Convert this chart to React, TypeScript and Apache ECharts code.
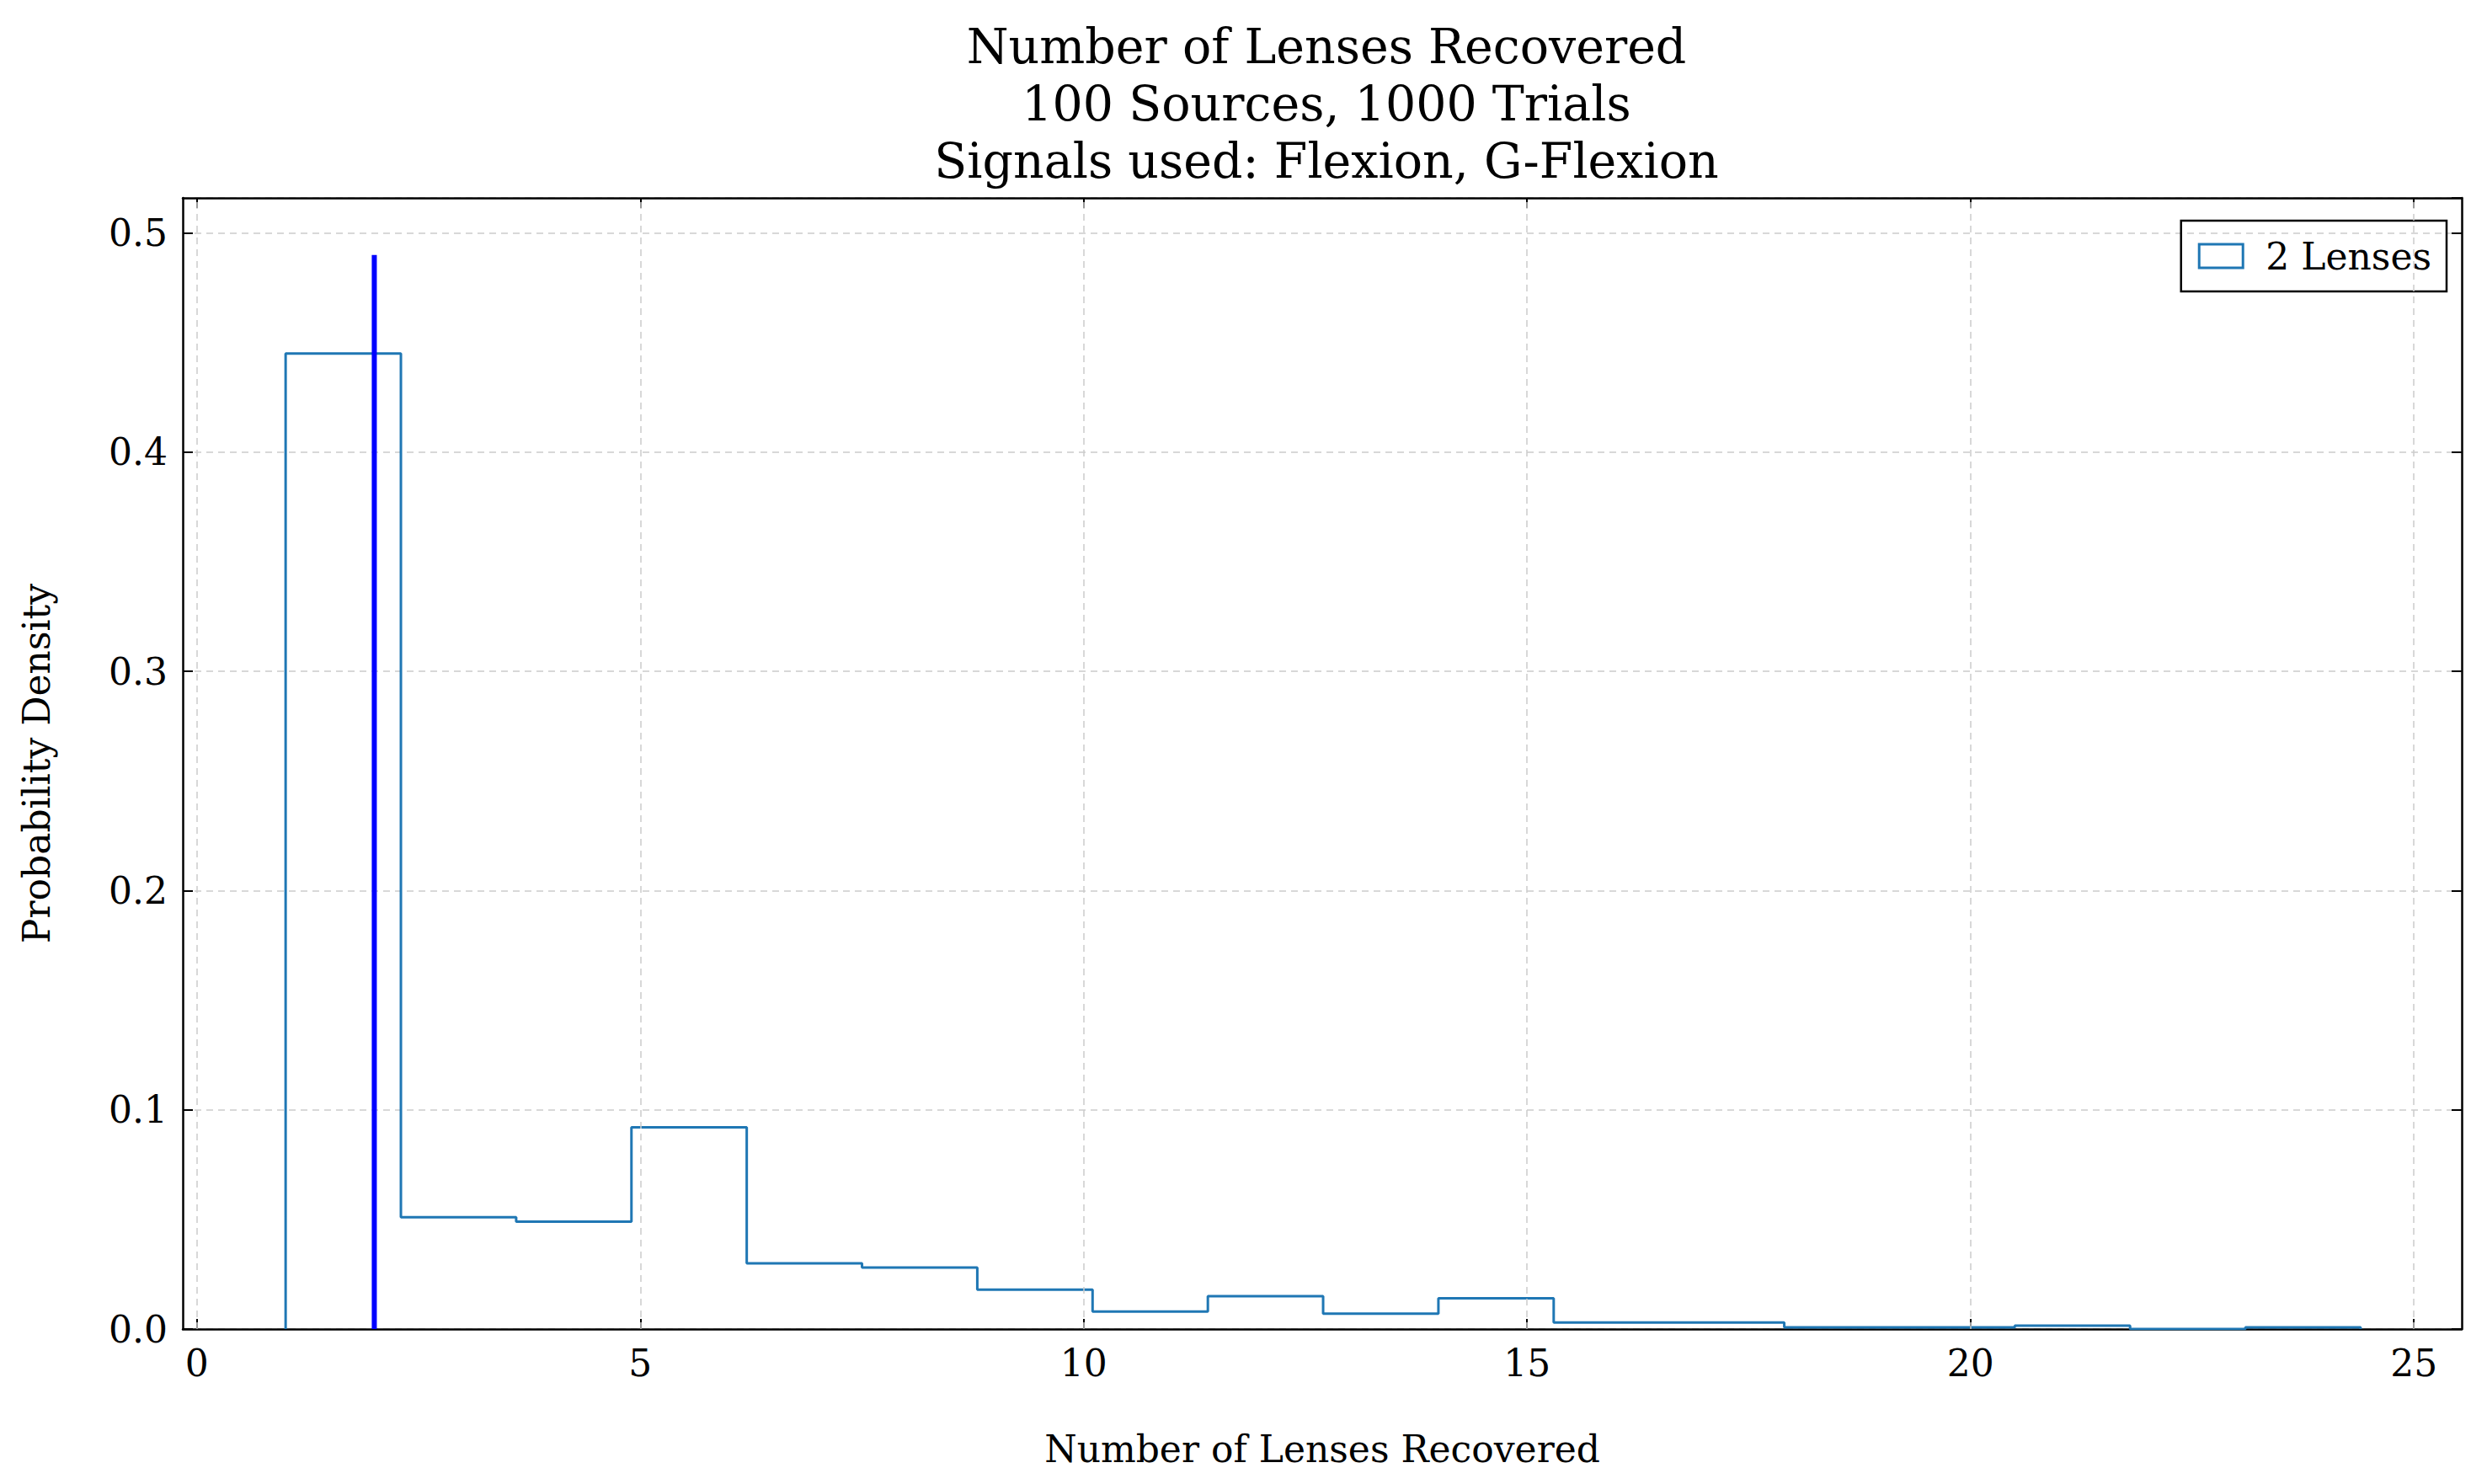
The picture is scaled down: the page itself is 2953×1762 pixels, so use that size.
import React, { useEffect, useRef } from "react";
import * as echarts from "echarts";

const binEdges = [1, 2.3, 3.6, 4.9, 6.2, 7.5, 8.8, 10.1, 11.4, 12.7, 14.0, 15.3, 16.6, 17.9, 19.2, 20.5, 21.8, 23.1, 24.4];
const densities = [0.445, 0.051, 0.049, 0.092, 0.030, 0.028, 0.018, 0.008, 0.015, 0.007, 0.014, 0.003, 0.003, 0.0008, 0.0008, 0.0015, 0, 0.0008];
const trueValue = 2;
const trueLineTop = 0.49;
const xTicks = [0, 5, 10, 15, 20, 25];
const yTicks = [0, 0.1, 0.2, 0.3, 0.4, 0.5];

export default function App() {
  const ref = useRef<HTMLDivElement>(null);
  useEffect(() => {
    document.body.style.margin = "0";
    const chart = echarts.init(ref.current!, null, { renderer: "svg" });
    const step: number[][] = [[binEdges[0], 0]];
    densities.forEach((d, i) => {
      step.push([binEdges[i], d]);
      step.push([binEdges[i + 1], d]);
    });
    step.push([binEdges[binEdges.length - 1], 0]);
    const font = "DejaVu Serif";
    const tickStyle = { inside: true, length: 12, lineStyle: { color: "#000", width: 2 } };
    const grid = { lineStyle: { type: [8, 6], color: "#cccccc", width: 1.5 } };
    const axisLine = { show: true, onZero: false, lineStyle: { color: "#000", width: 2.5 } };
    chart.setOption({
      animation: false,
      textStyle: { fontFamily: font },
      title: {
        text: "Number of Lenses Recovered\n100 Sources, 1000 Trials\nSignals used: Flexion, G-Flexion",
        left: 1570, top: 16, textAlign: "center",
        textStyle: { fontFamily: font, fontWeight: "normal", fontSize: 57, lineHeight: 68, color: "#000" },
      },
      grid: { left: 217, right: 30, top: 235, bottom: 184 },
      legend: {
        right: 48, top: 262, orient: "vertical",
        borderColor: "#000", borderWidth: 2.5, borderRadius: 0, padding: [20, 18, 20, 20],
        itemWidth: 52, itemHeight: 28,
        textStyle: { fontFamily: font, fontSize: 44, color: "#000", padding: [0, 0, 0, 22] },
        data: [{ name: "2 Lenses", icon: "rect", itemStyle: { color: "transparent", borderColor: "#1f77b4", borderWidth: 3 } }],
      },
      xAxis: [{
        type: "value", min: -0.16, max: 25.54,
        name: "Number of Lenses Recovered", nameLocation: "middle", nameGap: 120,
        nameTextStyle: { fontFamily: font, fontSize: 44, color: "#000" },
        axisLine,
        axisTick: { ...tickStyle, customValues: xTicks },
        axisLabel: { customValues: xTicks, fontFamily: font, fontSize: 44, color: "#000", margin: 18 },
        splitLine: { show: false },
      }, {
        type: "value", position: "top", min: -0.16, max: 25.54,
        axisLine,
        axisTick: { ...tickStyle, customValues: xTicks },
        axisLabel: { show: false, customValues: xTicks },
        splitLine: { show: false },
      }],
      yAxis: [{
        type: "value", min: 0, max: 0.516, interval: 0.1,
        name: "Probability Density", nameLocation: "middle", nameGap: 152,
        nameTextStyle: { fontFamily: font, fontSize: 44, color: "#000" },
        axisLine,
        axisTick: tickStyle,
        axisLabel: { showMaxLabel: false, fontFamily: font, fontSize: 44, color: "#000", margin: 18, formatter: (v: number) => v.toFixed(1) },
        splitLine: { show: true, ...grid },
      }, {
        type: "value", position: "right", min: 0, max: 0.516, interval: 0.1,
        axisLine,
        axisTick: tickStyle, axisLabel: { show: false }, splitLine: { show: false },
      }],
      series: [{
        name: "2 Lenses", type: "line", data: step, showSymbol: false,
        lineStyle: { color: "#1f77b4", width: 3 }, itemStyle: { color: "#1f77b4" },
        markLine: {
          silent: true, symbol: "none", label: { show: false },
          lineStyle: grid.lineStyle,
          data: xTicks.map((v) => ({ xAxis: v })),
        },
        z: 3,
      }, {
        name: "true", type: "line", data: [[trueValue, 0], [trueValue, trueLineTop]], showSymbol: false,
        lineStyle: { color: "#0000ff", width: 6 }, z: 4,
      }],
    });
    return () => chart.dispose();
  }, []);
  return <div ref={ref} style={{ width: 2953, height: 1762 }} />;
}
